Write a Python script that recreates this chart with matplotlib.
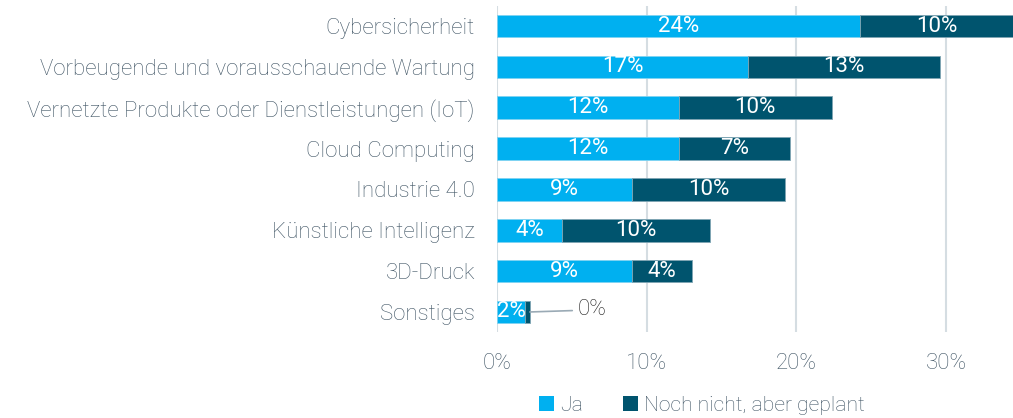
import matplotlib
matplotlib.use("Agg")
import matplotlib.pyplot as plt
import numpy as np
from matplotlib.patches import Patch

categories = ["Cybersicherheit", "Vorbeugende und vorausschauende Wartung",
              "Vernetzte Produkte oder Dienstleistungen (IoT)", "Cloud Computing",
              "Industrie 4.0", "Künstliche Intelligenz", "3D-Druck", "Sonstiges"]
ja = [24.25, 16.8, 12.15, 12.15, 9.0, 4.35, 9.0, 1.9]
geplant = [10.3, 12.8, 10.2, 7.4, 10.25, 9.9, 4.0, 0.3]
series_names = ["Ja", "Noch nicht, aber geplant"]
xticks = [0, 10, 20, 30]

c_ja = "#00B0F0"
c_pl = "#00546E"
txt = "#3F5464"
font = "Roboto"
fw = "light"
fs = 16

fig = plt.figure(figsize=(10.13, 4.18), dpi=100)
ax = fig.add_axes([0.4906, 0.2048, 0.5094, 0.7818])

y = np.arange(len(categories))
h = 0.55
ax.barh(y, ja, height=h, color=c_ja, edgecolor="#7FD3F2", linewidth=0.6, zorder=3)
ax.barh(y, geplant, left=ja, height=h, color=c_pl, edgecolor="#7FA5B3", linewidth=0.6, zorder=3)

for i in range(len(categories)):
    ax.text(ja[i] / 2, y[i], f"{round(ja[i])}%", ha="center", va="center",
            color="white", fontsize=fs, family=font, weight="normal", zorder=4)
    if geplant[i] >= 1:
        ax.text(ja[i] + geplant[i] / 2, y[i], f"{round(geplant[i])}%", ha="center",
                va="center", color="white", fontsize=fs, family=font, weight="normal",
                zorder=4)
    else:
        xe = ja[i] + geplant[i]
        ax.annotate(f"{round(geplant[i])}%", xy=(xe, y[i]), xytext=(xe + 3.2, y[i] - 0.05),
                    ha="left", va="center", color="#222222", fontsize=fs, family=font,
                    weight=fw,
                    arrowprops=dict(arrowstyle="-", color="#9AAAB5", lw=1.2,
                                    shrinkA=2, shrinkB=0,
                                    connectionstyle="arc3,rad=0"), zorder=4)

ax.set_ylim(len(categories) - 0.5, -0.5)
ax.set_xlim(0, 34.47)
ax.set_yticks(y)
ax.set_yticklabels(categories, fontsize=fs, color=txt, family=font, weight=fw)
ax.set_xticks(xticks)
ax.set_xticklabels([f"{t}%" for t in xticks], fontsize=fs, color=txt, family=font, weight=fw)
ax.tick_params(axis="y", length=0, pad=16)
ax.tick_params(axis="x", length=0, pad=15)
ax.xaxis.grid(True, color="#D5DDE2", lw=1.5, zorder=0)
ax.set_axisbelow(True)
for s in ax.spines.values():
    s.set_visible(False)

handles = [Patch(facecolor=c_ja, label=series_names[0]),
           Patch(facecolor=c_pl, label=series_names[1])]
leg = fig.legend(handles=handles, loc="center", bbox_to_anchor=(0.693, 0.03), ncol=2,
                 frameon=False, handlelength=0.7, handleheight=0.7, handletextpad=0.3,
                 columnspacing=1.9, prop={"family": font, "size": 15.2, "weight": fw})
for t in leg.get_texts():
    t.set_color(txt)

fig.savefig("out.png", dpi=100)
